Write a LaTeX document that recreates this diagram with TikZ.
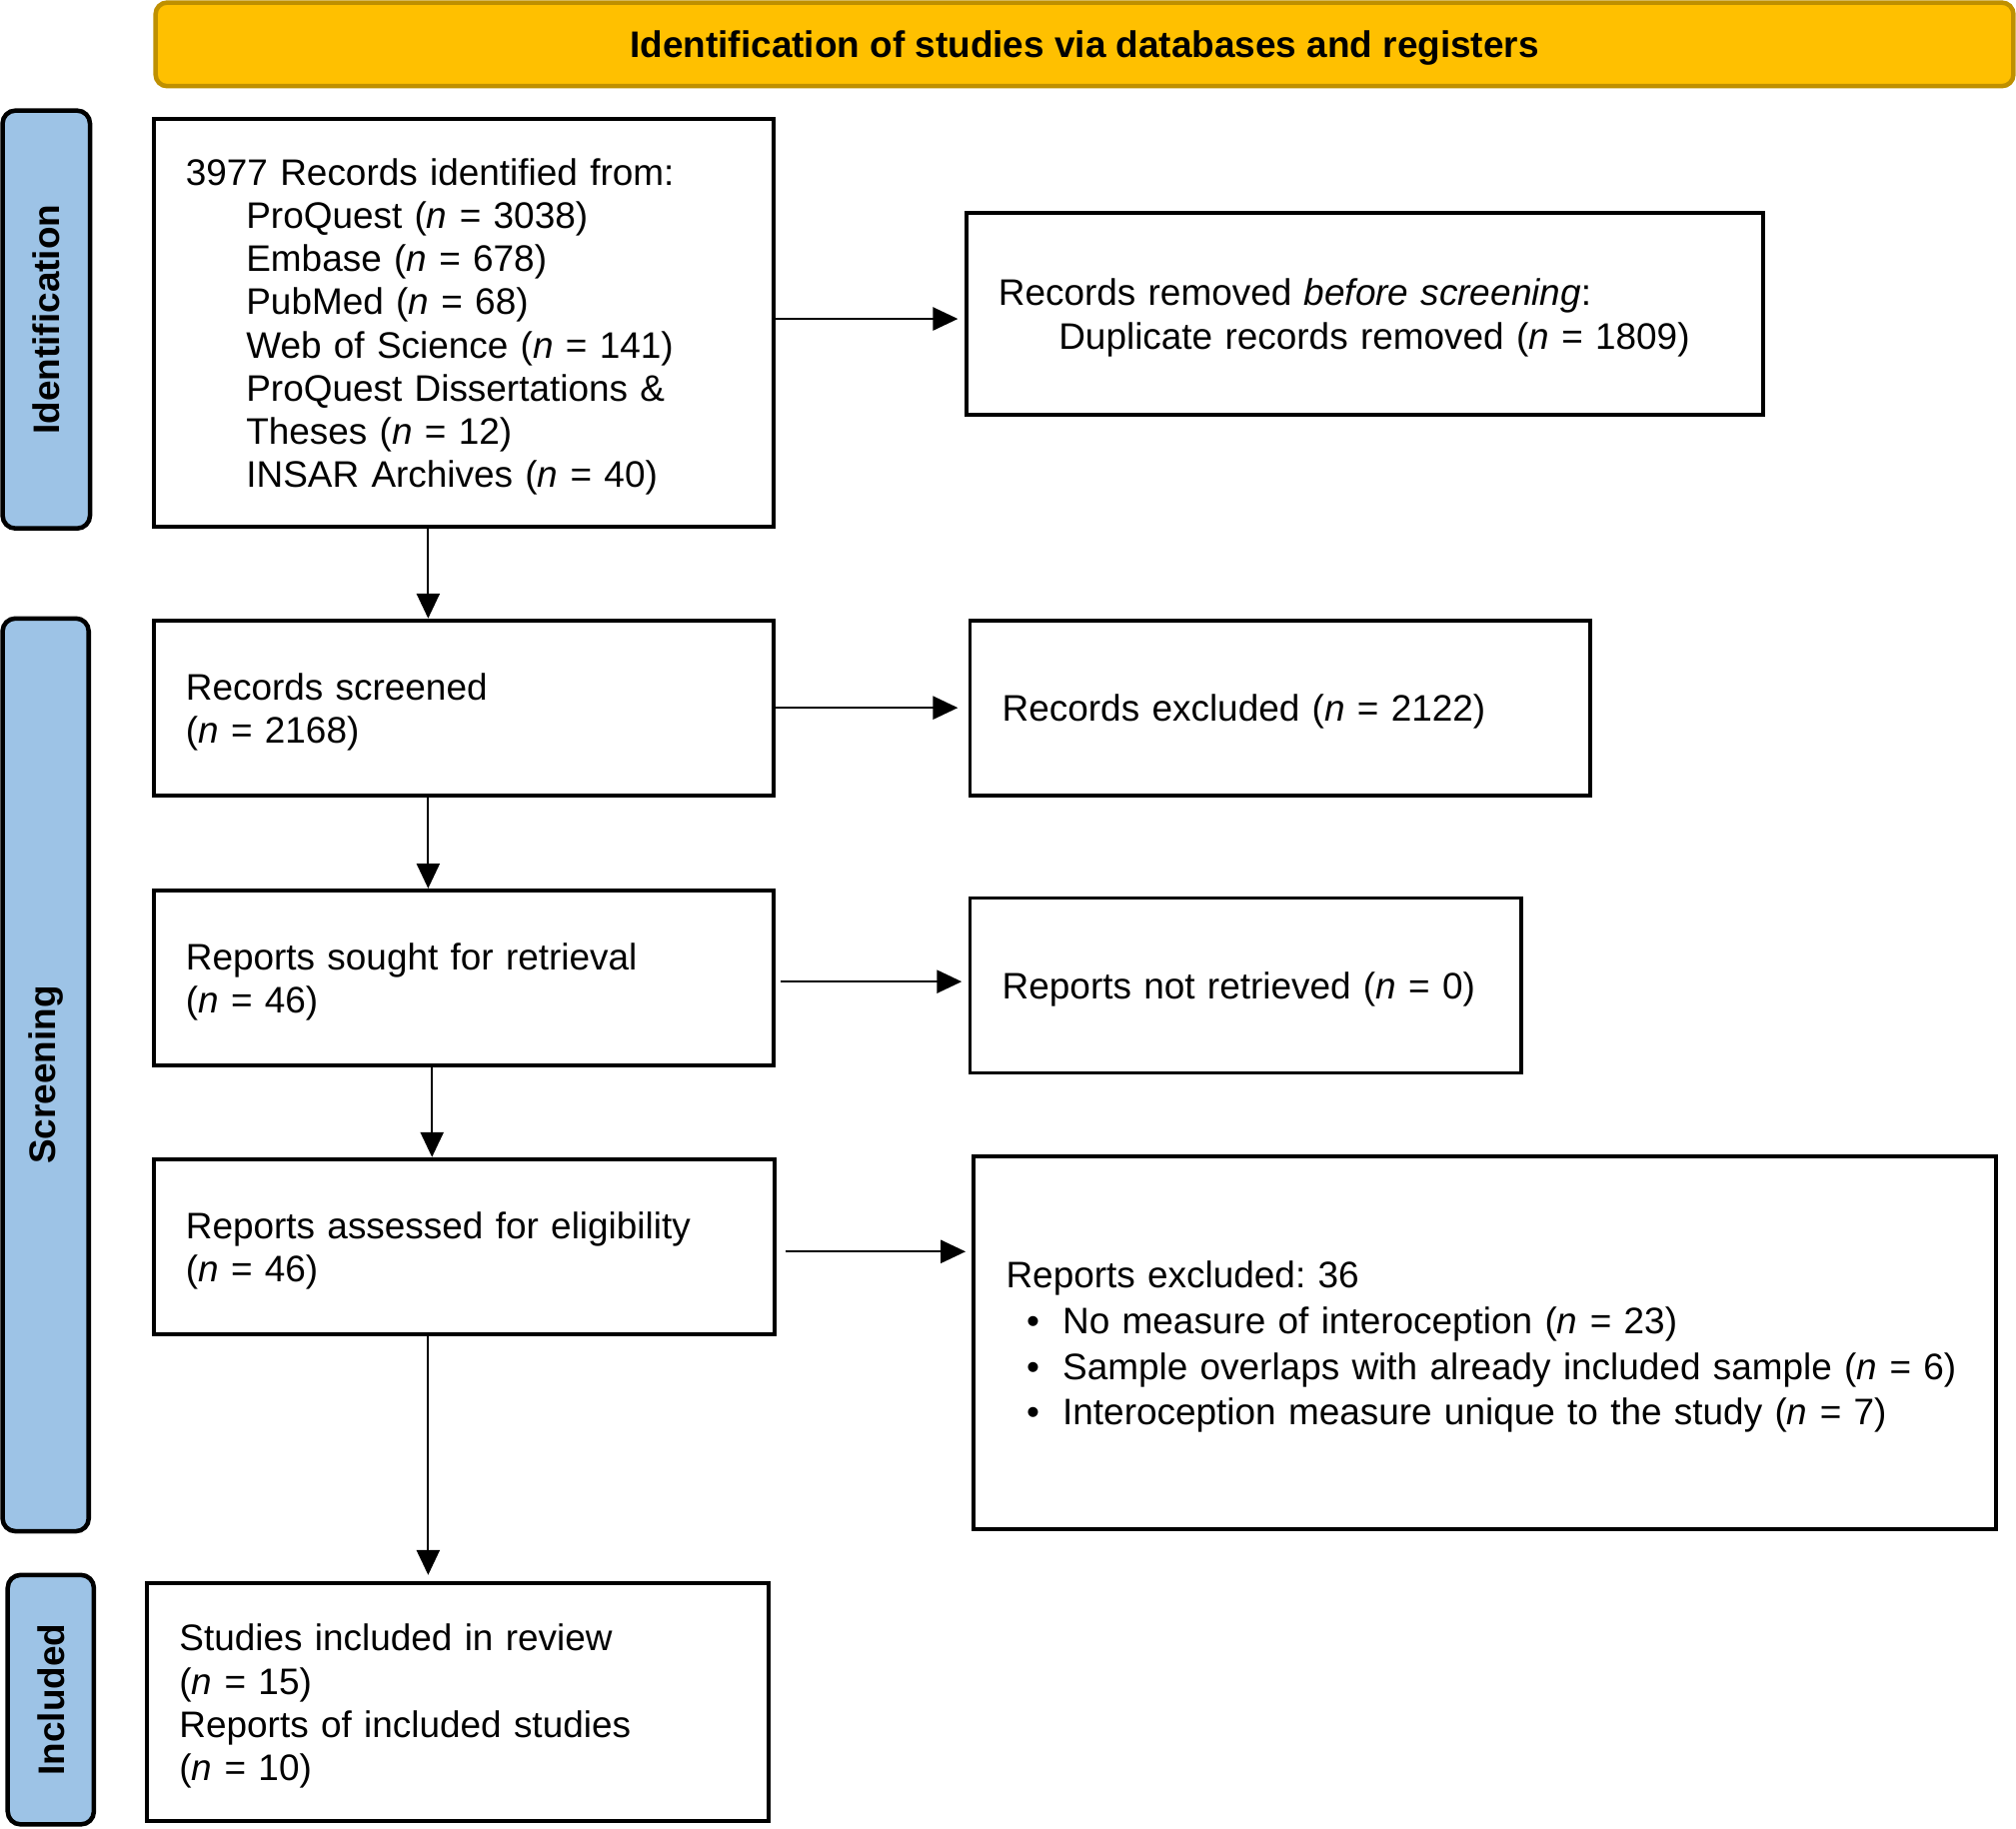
\documentclass[tikz,border=0pt]{standalone}
\usepackage{fontspec}
\setmainfont{Liberation Sans}
\usetikzlibrary{arrows.meta}
\definecolor{gold}{HTML}{FFC000}
\definecolor{golddark}{HTML}{BF9000}
\definecolor{barblue}{HTML}{9DC3E6}
\tikzset{
  box/.style={draw=black, line width=0.85pt, anchor=north west, align=left,
    inner xsep=0.25cm, inner ysep=0pt, font=\fontsize{8.17}{9.55}\selectfont,
    execute at begin node={\rule{0pt}{0.27cm}}},
  phase/.style={draw=black, fill=barblue, rounded corners=0.1cm, line width=1pt,
    rotate=90, inner sep=0pt, font=\fontsize{8.17}{9.55}\selectfont\bfseries},
  arr/.style={-{Triangle[length=5.5pt,width=5.1pt]}, line width=0.45pt},
}
\newcommand{\ind}{\hspace*{0.47cm}}
\newcommand{\bul}{\hspace*{0.16cm}\makebox[0.28cm][l]{\textbullet}}
\frenchspacing
\begin{document}
\begin{tikzpicture}
\useasboundingbox (0,0) rectangle (15.68,-14.22);
% header
\node[draw=golddark, fill=gold, line width=1pt, rounded corners=0.09cm,
  minimum width=14.45cm, minimum height=0.65cm, inner sep=0pt, text depth=0pt,
  font=\fontsize{8.17}{9.55}\selectfont\bfseries] (head) at (8.435,-0.345)
  {Identification of studies via databases and registers};
% phases
\node[phase, minimum width=3.25cm, minimum height=0.68cm] (idphase) at (0.36,-2.485) {Identification};
\node[phase, minimum width=7.10cm, minimum height=0.67cm] (scphase) at (0.355,-8.36) {Screening};
\node[phase, minimum width=1.94cm, minimum height=0.67cm] (inphase) at (0.395,-13.22) {Included};
% boxes
\node[box, text width=4.32cm, minimum height=3.17cm] (ident) at (1.18,-0.91)
  {3977 Records identified from:\\
   \ind ProQuest (\textit{n} = 3038)\\
   \ind Embase (\textit{n} = 678)\\
   \ind PubMed (\textit{n} = 68)\\
   \ind Web of Science (\textit{n} = 141)\\
   \ind ProQuest Dissertations \&\\
   \ind Theses (\textit{n} = 12)\\
   \ind INSAR Archives (\textit{n} = 40)};
\node[box, text width=5.70cm, minimum height=1.57cm] (dup) at (7.50,-1.64)
  {Records removed \textit{before screening}:\\
   \ind Duplicate records removed (\textit{n} = 1809)};
\node[box, text width=4.32cm, minimum height=1.36cm] (screen) at (1.18,-4.81)
  {Records screened\\(\textit{n} = 2168)};
\node[box, text width=4.32cm, minimum height=1.36cm] (excl) at (7.53,-4.81)
  {Records excluded (\textit{n} = 2122)};
\node[box, text width=4.32cm, minimum height=1.36cm] (sought) at (1.18,-6.91)
  {Reports sought for retrieval\\(\textit{n} = 46)};
\node[box, text width=3.79cm, minimum height=1.36cm] (notret) at (7.53,-6.97)
  {Reports not retrieved (\textit{n} = 0)};
\node[box, text width=4.33cm, minimum height=1.36cm] (assess) at (1.18,-9.00)
  {Reports assessed for eligibility\\(\textit{n} = 46)};
\node[box, text width=7.45cm, minimum height=2.90cm] (repexcl) at (7.56,-8.98)
  {Reports excluded: 36\\[0.02cm]
   \bul No measure of interoception (\textit{n} = 23)\\[0.02cm]
   \bul Sample overlaps with already included sample (\textit{n}~=~6)\\[0.02cm]
   \bul Interoception measure unique to the study (\textit{n} = 7)};
\node[box, text width=4.33cm, minimum height=1.85cm] (incl) at (1.13,-12.30)
  {Studies included in review\\(\textit{n} = 15)\\
   Reports of included studies\\(\textit{n} = 10)};
% arrows
\coordinate (spine) at (3.33,0);
\draw[arr] (ident.south -| spine) -- (screen.north -| spine);
\draw[arr] (screen.south -| spine) -- (sought.north -| spine);
\draw[arr] ([xshift=0.03cm]sought.south -| spine) -- ([xshift=0.03cm]assess.north -| spine);
\draw[arr, shorten >=0.05cm] (assess.south -| spine) -- (incl.north -| spine);
\draw[arr, shorten >=0.05cm] ([yshift=0.03cm]ident.east) -- ([yshift=0.03cm]ident.east -| dup.west);
\draw[arr, shorten >=0.08cm] (screen.east) -- (excl.west);
\draw[arr, shorten <=0.04cm, shorten >=0.05cm] ([yshift=-0.03cm]sought.east) -- ([yshift=-0.03cm]sought.east -| notret.west);
\draw[arr, shorten <=0.07cm, shorten >=0.05cm] ([yshift=-0.04cm]assess.east) -- ([yshift=-0.04cm]assess.east -| repexcl.west);
\end{tikzpicture}
\end{document}
